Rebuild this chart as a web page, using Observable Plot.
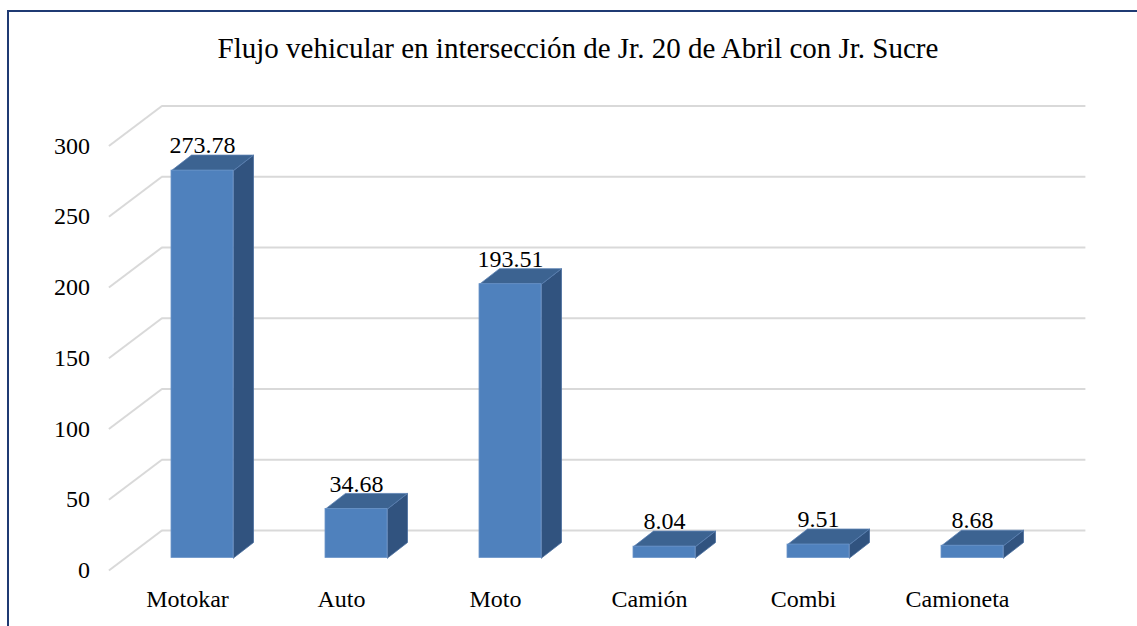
<!DOCTYPE html>
<html>
<head>
<meta charset="utf-8">
<script src="https://cdn.jsdelivr.net/npm/d3@7"></script>
<script src="https://cdn.jsdelivr.net/npm/@observablehq/plot@0.6"></script>
<style>
  html, body { margin: 0; padding: 0; background: #fff; overflow: hidden; }
  #wrap { position: relative; width: 1137px; height: 626px; }
  #border { position: absolute; left: 7px; top: 10px; width: 1160px; height: 660px; border: 2px solid #1f3a73; box-sizing: border-box; }
  #title { position: absolute; left: 0; width: 1156px; top: 32px; text-align: center; font-family: "Liberation Serif", "Times New Roman", "DejaVu Serif", serif; font-size: 29px; color: #000; }
  #chart { position: absolute; left: 0; top: 0; }
  #chart svg text { font-family: "Liberation Serif", "Times New Roman", "DejaVu Serif", serif !important; }
</style>
</head>
<body>
<div id="wrap">
  <div id="border"></div>
  <div id="chart"></div>
  <div id="title">Flujo vehicular en intersección de Jr. 20 de Abril con Jr. Sucre</div>
</div>
<script>
// ---- data ----
const categories = ["Motokar", "Auto", "Moto", "Camión", "Combi", "Camioneta"];
const values = [273.78, 34.68, 193.51, 8.04, 9.51, 8.68];
const yTicks = [0, 50, 100, 150, 200, 250, 300];

// ---- layout / style constants ----
const W = 1137, H = 626;
const mLeft = 202, mRight = 165, mTop = 133, mBottom = 68.5;
const pxPerX = (W - mLeft - mRight) / 5;          // px per category step
const pxPerY = (H - mTop - mBottom) / 300;        // px per value unit
// pixel offsets for the 3D planes (relative to the bar front plane)
const toDX = px => px / pxPerX;
const toDY = px => -px / pxPerY;
const barDepth = {dx: toDX(20), dy: toDY(-15.5)};
const backWall = {dx: toDX(36.4), dy: toDY(-27.5)};
const frontPlane = {dx: toDX(-16.6), dy: toDY(12.5)};
const halfW = 31 / pxPerX;
const axisX = -0.5, gridEnd = 5.5;

const rows = categories.map((c, i) => ({c, i, v: values[i]}));

const topFaces = rows.flatMap(d => {
  const xl = d.i - halfW, xr = d.i + halfW;
  return [
    {c: d.c, x: xl, y: d.v},
    {c: d.c, x: xr, y: d.v},
    {c: d.c, x: xr + barDepth.dx, y: d.v + barDepth.dy},
    {c: d.c, x: xl + barDepth.dx, y: d.v + barDepth.dy},
    {c: d.c, x: xl, y: d.v}
  ];
});
const sideFaces = rows.flatMap(d => {
  const xr = d.i + halfW;
  return [
    {c: d.c, x: xr, y: 0},
    {c: d.c, x: xr, y: d.v},
    {c: d.c, x: xr + barDepth.dx, y: d.v + barDepth.dy},
    {c: d.c, x: xr + barDepth.dx, y: barDepth.dy},
    {c: d.c, x: xr, y: 0}
  ];
});

const font = "'Liberation Serif', 'Times New Roman', 'DejaVu Serif', serif";
const fs = 24;

const chart = Plot.plot({
  width: W,
  height: H,
  marginLeft: mLeft,
  marginRight: mRight,
  marginTop: mTop,
  marginBottom: mBottom,
  x: {type: "linear", domain: [0, 5], axis: null},
  y: {type: "linear", domain: [0, 300], axis: null},
  style: {fontFamily: font, background: "transparent", overflow: "visible"},
  marks: [
    // back wall gridlines
    Plot.ruleY(yTicks, {y: d => d, x1: axisX, x2: gridEnd, dx: 36.4, dy: -27.5, stroke: "#d9d9d9", strokeWidth: 2}),
    // side-wall diagonals
    Plot.link(yTicks, {
      x1: () => axisX + frontPlane.dx, y1: d => d + frontPlane.dy,
      x2: () => axisX + backWall.dx, y2: d => d + backWall.dy,
      stroke: "#d9d9d9", strokeWidth: 2
    }),
    // bar side faces
    Plot.line(sideFaces, {x: "x", y: "y", z: "c", fill: "#31537f", stroke: "#4a6f9e", strokeWidth: 0.8, strokeLinejoin: "round"}),
    // bar top faces
    Plot.line(topFaces, {x: "x", y: "y", z: "c", fill: "#3c6391", stroke: "#5a80b2", strokeWidth: 0.8, strokeLinejoin: "round"}),
    // bar front faces
    Plot.rect(rows, {x1: d => d.i - halfW, x2: d => d.i + halfW, y1: 0, y2: "v", fill: "#4f81bd", stroke: "#6b95c9", strokeWidth: 0.8}),
    // value labels
    Plot.text(rows, {x: "i", y: "v", text: d => d.v.toFixed(2), dy: -25, fontSize: fs, fontFamily: font, fill: "#000"}),
    // y tick labels
    Plot.text(yTicks, {x: () => axisX + frontPlane.dx, y: d => d + frontPlane.dy, text: d => String(d), textAnchor: "end", dx: -19, fontSize: fs, fontFamily: font, fill: "#000"}),
    // category labels
    Plot.text(rows, {x: "i", y: () => 0, text: "c", dx: -15, dy: 41, fontSize: fs, fontFamily: font, fill: "#000"})
  ]
});
document.getElementById("chart").appendChild(chart);
</script>
</body>
</html>
